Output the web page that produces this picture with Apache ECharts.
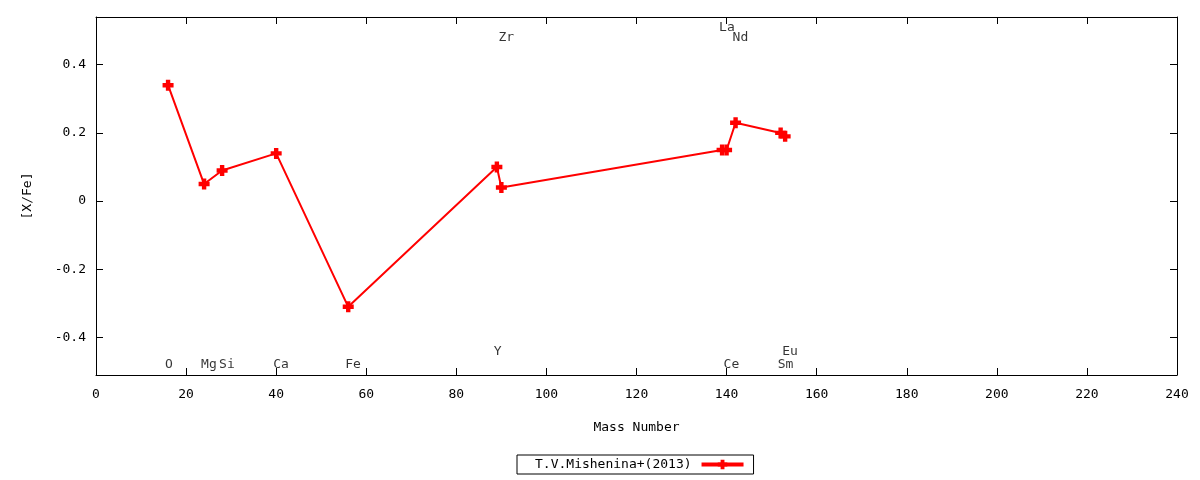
<!DOCTYPE html>
<html>
<head>
<meta charset="utf-8">
<script src="https://cdn.jsdelivr.net/npm/echarts@6/dist/echarts.min.js"></script>
<style>html,body{margin:0;padding:0;background:#fff}#c{width:1200px;height:480px}</style>
</head>
<body>
<div id="c"></div>
<script>
const elements = ['O','Mg','Si','Ca','Fe','Y','Zr','La','Ce','Nd','Sm','Eu'];
const massNumbers = [16,24,28,40,56,89,90,139,140,142,152,153];
const xfe = [0.34,0.05,0.09,0.14,-0.31,0.10,0.04,0.15,0.15,0.23,0.20,0.19];
const labelY = [-0.48,-0.48,-0.48,-0.48,-0.48,-0.44,0.48,0.51,-0.48,0.48,-0.48,-0.44];
const xTicks = [0,20,40,60,80,100,120,140,160,180,200,220,240];
const yTicks = [-0.4,-0.2,0,0.2,0.4];
const seriesName = 'T.V.Mishenina+(2013)';

const FONT = 'DejaVu Sans Mono';
const plus = 'path://M3,0H7V3H10V7H7V10H3V7H0V3H3Z';
const chart = echarts.init(document.getElementById('c'));
const axisLine = {show: true, onZero: false, lineStyle: {color: '#000', width: 1}};
const tick = {show: true, inside: true, length: 7, lineStyle: {color: '#000'}};
chart.setOption({
  animation: false,
  textStyle: {fontFamily: FONT},
  grid: {left: 96, right: 23, top: 17, bottom: 105},
  legend: {
    data: [seriesName],
    left: 517, top: 455,
    align: 'right',
    orient: 'horizontal',
    borderColor: '#000', borderWidth: 1, borderRadius: 0,
    padding: [3, 8, 3, 18],
    itemWidth: 42, itemHeight: 12,
    lineStyle: {width: 4},
    textStyle: {fontFamily: FONT, fontSize: 13, color: '#000', padding: [0, 5, 0, 0]}
  },
  xAxis: [{
    type: 'value', min: 0, max: 240, interval: 20,
    name: 'Mass Number', nameLocation: 'middle', nameGap: 46,
    nameTextStyle: {fontFamily: FONT, fontSize: 13, color: '#000'},
    axisLine: axisLine, axisTick: tick, splitLine: {show: false},
    axisLabel: {color: '#000', fontFamily: FONT, fontSize: 13, margin: 13,
      customValues: xTicks},
  }, {
    type: 'value', min: 0, max: 240, interval: 20, position: 'top',
    axisLine: axisLine, axisTick: tick, splitLine: {show: false},
    axisLabel: {show: false}
  }],
  yAxis: [{
    type: 'value', min: -0.51, max: 0.54,
    name: '[X/Fe]', nameLocation: 'middle', nameGap: 62, nameRotate: 90,
    nameTextStyle: {fontFamily: FONT, fontSize: 13, color: '#000'},
    axisLine: axisLine,
    axisTick: Object.assign({}, tick, {customValues: yTicks}),
    splitLine: {show: false},
    axisLabel: {color: '#000', fontFamily: FONT, fontSize: 13, margin: 10,
      customValues: yTicks, formatter: v => String(Math.round(v*10)/10)}
  }, {
    type: 'value', min: -0.51, max: 0.54, position: 'right',
    axisLine: axisLine,
    axisTick: Object.assign({}, tick, {customValues: yTicks}),
    splitLine: {show: false},
    axisLabel: {show: false}
  }],
  series: [{
    name: seriesName,
    type: 'line',
    data: massNumbers.map((m, i) => [m, xfe[i]]),
    symbol: plus, symbolSize: 11, showAllSymbol: true,
    itemStyle: {color: '#ff0000'},
    lineStyle: {color: '#ff0000', width: 2},
    z: 3
  }, {
    name: 'labels',
    type: 'scatter',
    data: massNumbers.map((m, i) => [m, labelY[i], elements[i]]),
    symbolSize: 0,
    silent: true,
    label: {show: true, position: [-3, 0], align: 'left', verticalAlign: 'middle',
      formatter: p => p.data[2], color: '#000', fontFamily: FONT, fontSize: 13}
  }]
});
</script>
</body>
</html>
